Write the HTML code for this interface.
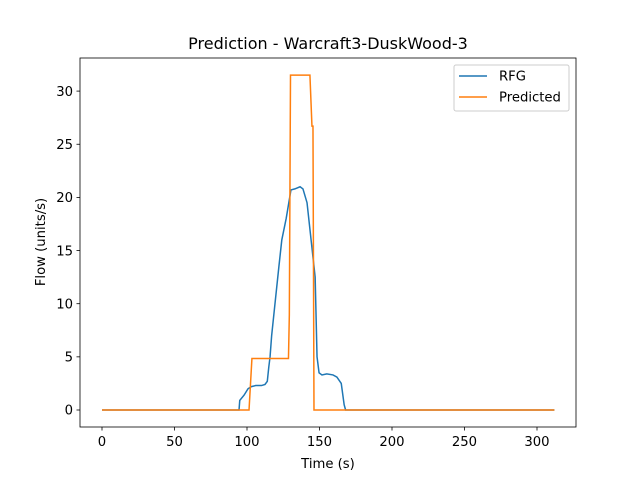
<!DOCTYPE html>
<html><head><meta charset="utf-8"><style>
body{margin:0;background:#fff;font-family:"Liberation Sans","DejaVu Sans",sans-serif}
svg text{font-family:"DejaVu Sans","Liberation Sans",sans-serif;font-size:13.2px;fill:#000}
</style></head><body>
<svg id="chart" width="640" height="480">
<rect width="640" height="480" fill="#fff"/>
<text x="328" y="49" text-anchor="middle" style="font-size:16px">Prediction - Warcraft3-DuskWood-3</text>
<g id="plot"></g>
<text x="328" y="468" text-anchor="middle">Time (s)</text>
<text transform="translate(45,242) rotate(-90)" text-anchor="middle">Flow (units/s)</text>
<g>
<rect x="454" y="65" width="115" height="46" fill="#fff" stroke="#ccc" rx="2"/>
<line x1="459" y1="76" x2="487" y2="76" stroke="#1f77b4" stroke-width="1.5"/>
<text x="499" y="80.5">RFG</text>
<line x1="459" y1="97" x2="487" y2="97" stroke="#ff7f0e" stroke-width="1.5"/>
<text x="499" y="101.5">Predicted</text>
</g>
</svg>
<script>
const xTicks=[0,50,100,150,200,250,300];
const yTicks=[0,5,10,15,20,25,30];
const rfgT=[0,94.5,95,98,100.7,103,106,110,112.4,114,115,115.9,117,119.3,122,124,127,130.3,133,136.6,138.6,141.4,143.4,145,147,148.3,149.7,151.7,155,159.3,162,165,167,168,312];
const rfgV=[0,0,0.9,1.4,2.0,2.2,2.3,2.3,2.4,2.7,4.0,5.0,7.0,10.0,13.5,16.0,18.0,20.7,20.8,21.0,20.8,19.5,17.0,15.0,12.5,5.0,3.5,3.3,3.4,3.3,3.1,2.5,0.5,0,0];
const predT=[0,101.4,103.4,128.6,129.2,130,143.4,144.8,145.5,146.2,312];
const predV=[0,0,4.85,4.85,9,31.5,31.5,26.7,26.7,0,0];
const X=v=>102+v*1.45, Y=v=>410-v*10.63;
const ns="http://www.w3.org/2000/svg", g=document.getElementById('plot');
function mk(t,a){const e=document.createElementNS(ns,t);for(const k in a)e.setAttribute(k,a[k]);g.appendChild(e);return e;}
const ax=mk('rect',{x:80,y:58,width:496,height:369,fill:'none',stroke:'#000','stroke-width':0.8});


xTicks.forEach(t=>{const l=mk('line',{x1:X(t),x2:X(t),y1:427,y2:430.5,stroke:'#000','stroke-width':0.8});


const tx=mk('text',{x:X(t),y:446,'text-anchor':'middle'});tx.textContent=t;

});
yTicks.forEach(t=>{const l=mk('line',{x1:76.5,x2:80,y1:Y(t),y2:Y(t),stroke:'#000','stroke-width':0.8});


const tx=mk('text',{x:73,y:Y(t)+4.7,'text-anchor':'end'});tx.textContent=t;

});
const p1=mk('polyline',{points:rfgT.map((t,i)=>X(t)+','+Y(rfgV[i])).join(' '),fill:'none',stroke:'#1f77b4','stroke-width':1.5});


const p2=mk('polyline',{points:predT.map((t,i)=>X(t)+','+Y(predV[i])).join(' '),fill:'none',stroke:'#ff7f0e','stroke-width':1.5});


</script>
</body></html>
